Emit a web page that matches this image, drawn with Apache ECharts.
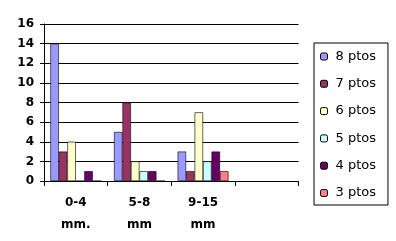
<!DOCTYPE html>
<html><head><meta charset="utf-8">
<script src="https://cdn.jsdelivr.net/npm/echarts@6/dist/echarts.min.js"></script>
<style>html,body{margin:0;padding:0;background:#fff}#c{width:396px;height:241px}</style>
</head><body><div id="c"></div>
<script>
const categories = ['0-4\nmm.', '5-8\nmm', '9-15\nmm', ''];
const seriesNames = ['8 ptos', '7 ptos', '6 ptos', '5 ptos', '4 ptos', '3 ptos'];
const colors = ['#9999FF', '#993366', '#FFFFCC', '#CCFFFF', '#660066', '#FF8080'];
const s8 = [14, 5, 3, null];
const s7 = [3, 8, 1, null];
const s6 = [4, 2, 7, null];
const s5 = [0, 1, 2, null];
const s4 = [1, 1, 3, null];
const s3 = [0, 0, 1, null];
const yTicks = {min: 0, max: 16, interval: 2};
const values = [s8, s7, s6, s5, s4, s3];

const chart = echarts.init(document.getElementById('c'), null, {renderer: 'canvas'});
chart.setOption({
  animation: false,
  grid: {left: 44, right: 97.5, top: 24, bottom: 60},
  legend: {
    orient: 'vertical', left: 314, top: 43,
    padding: [6.5, 12, 5, 6],
    itemWidth: 7, itemHeight: 7, itemGap: 13.3,
    borderColor: '#000', borderWidth: 1,
    textStyle: {fontFamily: 'DejaVu Sans', fontSize: 13, lineHeight: 14, color: '#000', padding: [0, 0, 0, 3]},
    itemStyle: {borderColor: '#000', borderWidth: 1},
    data: seriesNames
  },
  xAxis: {
    type: 'category', data: categories,
    axisLine: {lineStyle: {color: '#000', width: 1}},
    axisTick: {show: true, length: 5, interval: 0, lineStyle: {color: '#000'}},
    axisLabel: {interval: 0, margin: 11, fontFamily: 'DejaVu Sans', fontSize: 12, fontWeight: 'bold', lineHeight: 22, color: '#000'}
  },
  yAxis: {
    type: 'value', min: yTicks.min, max: yTicks.max, interval: yTicks.interval,
    axisLine: {show: true, lineStyle: {color: '#000', width: 1}},
    axisTick: {show: true, length: 4, lineStyle: {color: '#000'}},
    axisLabel: {margin: 10, fontFamily: 'DejaVu Sans', fontSize: 12, fontWeight: 'bold', color: '#000'},
    splitLine: {show: true, lineStyle: {color: '#000', width: 1}}
  },
  series: seriesNames.map((n, i) => ({
    name: n, type: 'bar', data: values[i],
    barGap: 0, barCategoryGap: '20%',
    itemStyle: {color: colors[i], borderColor: '#000', borderWidth: 0.6}
  }))
});
</script></body></html>
